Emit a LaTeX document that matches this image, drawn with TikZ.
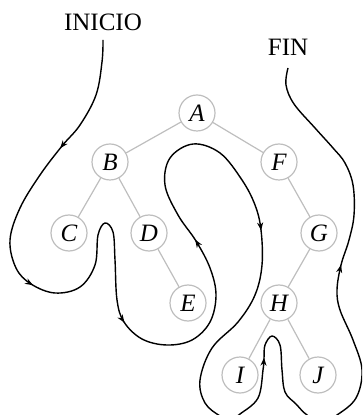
\documentclass[tikz,border=0pt]{standalone}
\usepackage{fontspec}
\setmainfont{Liberation Serif}
\usetikzlibrary{arrows.meta,decorations.markings}
\definecolor{treegray}{RGB}{190,190,190}
\begin{document}
\begin{tikzpicture}[x=0.5pt,y=-0.5pt,
  vertex/.style={circle,draw=treegray,line width=0.6pt,minimum size=18pt,inner sep=0pt,font=\fontsize{12.5}{14}\selectfont\itshape},
  edge/.style={draw=treegray,line width=0.6pt},
  label/.style={font=\fontsize{12.5}{14}\selectfont,inner sep=0pt},
  tour/.style={line width=0.7pt,
    postaction={decorate},
    decoration={markings,
      mark=at position 0.068 with {\arrow{Stealth[length=4pt,width=3pt]}},
      mark=at position 0.158 with {\arrow{Stealth[length=4pt,width=3pt]}},
      mark=at position 0.286 with {\arrow{Stealth[length=4pt,width=3pt]}},
      mark=at position 0.393 with {\arrow{Stealth[length=4pt,width=3pt]}},
      mark=at position 0.527 with {\arrow{Stealth[length=4pt,width=3pt]}},
      mark=at position 0.697 with {\arrow{Stealth[length=4pt,width=3pt]}},
      mark=at position 0.875 with {\arrow{Stealth[length=4pt,width=3pt]}}}}]
\useasboundingbox (0,0) rectangle (362,415);
\node[label] (inicio) at (103,22) {INICIO};
\node[label] (fin) at (288,47) {FIN};
\node[vertex] (A) at (197,113) {A};
\node[vertex] (B) at (110,162) {B};
\node[vertex] (F) at (279,162) {F};
\node[vertex] (C) at (69,233) {C};
\node[vertex] (D) at (149,233) {D};
\node[vertex] (E) at (188,303) {E};
\node[vertex] (G) at (319,233) {G};
\node[vertex] (H) at (279,303) {H};
\node[vertex] (I) at (240,375) {I};
\node[vertex] (J) at (318,375) {J};
\path[edge] (A) -- (B) (A) -- (F) (B) -- (C) (B) -- (D) (D) -- (E)
  (F) -- (G) (G) -- (H) (H) -- (I) (H) -- (J);
\begin{scope}
\clip (0,0) rectangle (362,415);
\draw[tour] plot[smooth,tension=0.6] coordinates {
 (103,40) (102,62) (96,95) (80,125) (62,146) (40,175) (20,208) (10,240)
 (16,268) (31,284) (55,293) (80,287) (95,265) (98,235) (105,223) (113,232)
 (115,260) (117,300) (124,322) (142,339) (167,345) (192,340) (210,322)
 (216,295) (210,268) (196,241) (178,215) (165,185) (170,158) (193,144)
 (220,153) (242,180) (255,205) (261,230) (262,265) (255,295) (238,322)
 (212,348) (200,380) (205,403) (220,416) (230,420) (240,414) (258,398)
 (263,370) (264,358) (265,345) (272,336) (280,345) (282,370) (285,392)
 (296,404) (307,415) (322,422) (337,415) (356,398) (362,370) (353,340)
 (340,310) (337,290) (341,265) (349,240) (354,215) (353,185) (345,163)
 (333,148) (315,128) (294,104) (286,85) (288,68)};
\end{scope}
\end{tikzpicture}
\end{document}
